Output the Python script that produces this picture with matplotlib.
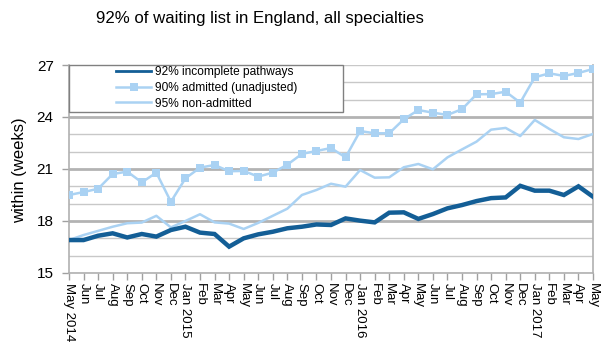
import matplotlib
matplotlib.use("Agg")
import matplotlib.pyplot as plt
from matplotlib.patches import Rectangle
from matplotlib.lines import Line2D
import numpy as np

months = ["May 2014", "Jun", "Jul", "Aug", "Sep", "Oct", "Nov", "Dec",
          "Jan 2015", "Feb", "Mar", "Apr", "May", "Jun", "Jul", "Aug", "Sep", "Oct", "Nov", "Dec",
          "Jan 2016", "Feb", "Mar", "Apr", "May", "Jun", "Jul", "Aug", "Sep", "Oct", "Nov", "Dec",
          "Jan 2017", "Feb", "Mar", "Apr", "May"]

incomplete = [16.9, 16.9, 17.15, 17.29, 17.05, 17.25, 17.1, 17.48,
              17.67, 17.33, 17.25, 16.52, 17.0, 17.23, 17.38, 17.58, 17.67, 17.8, 17.77, 18.15,
              18.02, 17.92, 18.48, 18.5, 18.12, 18.4, 18.73, 18.92, 19.15, 19.32, 19.36, 20.03,
              19.75, 19.75, 19.5, 20.0, 19.4]

admitted = [19.5, 19.67, 19.86, 20.71, 20.85, 20.23, 20.79, 19.11,
            20.46, 21.08, 21.23, 20.87, 20.89, 20.56, 20.79, 21.25, 21.87, 22.04, 22.21, 21.67,
            23.19, 23.06, 23.06, 23.87, 24.40, 24.25, 24.12, 24.45, 25.31, 25.32, 25.46, 24.83,
            26.29, 26.52, 26.37, 26.54, 26.77]

non_admitted = [16.9, 17.19, 17.43, 17.67, 17.87, 17.91, 18.3, 17.63,
                18.0, 18.39, 17.92, 17.85, 17.54, 17.89, 18.3, 18.71, 19.5, 19.79, 20.15, 19.98,
                20.94, 20.5, 20.52, 21.1, 21.29, 20.98, 21.67, 22.13, 22.58, 23.27, 23.37, 22.9,
                23.83, 23.31, 22.83, 22.73, 23.02]

series_names = ["92% incomplete pathways", "90% admitted (unadjusted)", "95% non-admitted"]
title = "92% of waiting list in England, all specialties"
ylabel = "within (weeks)"
yticks = [15, 18, 21, 24, 27]

dark = "#135e96"
light = "#aad2f3"

plt.rcParams['font.family'] = ['Liberation Sans', 'DejaVu Sans']

W, H = 603, 351
fig = plt.figure(figsize=(W / 100, H / 100), dpi=100)
L, R, T, B = 69, 593, 65, 273
ax = fig.add_axes([L / W, 1 - B / H, (R - L) / W, (B - T) / H])

x = np.arange(len(months))

# grid
for v in range(15, 28):
    if v in (18, 21, 24):
        ax.axhline(v, color="#b3b3b3", lw=2.0, zorder=1)
    else:
        ax.axhline(v, color="#c8c8c8", lw=1.0, zorder=1)

ax.plot(x, incomplete, color=dark, lw=3.2, zorder=5, solid_joinstyle="miter")
ax.plot(x, admitted, color=light, lw=1.8, marker="s", markersize=5.5,
        markeredgewidth=0, zorder=4)
ax.plot(x, non_admitted, color=light, lw=1.8, zorder=3)

ax.set_xlim(0, len(months) - 1)
ax.set_ylim(15, 27)
ax.set_yticks(yticks)
ax.set_yticklabels([str(t) for t in yticks], fontsize=11)
ax.set_xticks(x)
ax.set_xticklabels(months, rotation=270, fontsize=9.5, va="top", ha="center")
ax.tick_params(axis="both", color="#a0a0a0", length=5, width=1)
ax.tick_params(axis="x", pad=2)
ax.tick_params(axis="y", pad=6)

for s in ["left", "right", "bottom"]:
    ax.spines[s].set_color("#b0b0b0")
    ax.spines[s].set_linewidth(1.2)
ax.spines["top"].set_visible(False)

fig.text(20 / W, 1 - 170 / H, ylabel, rotation=90, ha="center", va="center", fontsize=12)
fig.text(260 / W, 1 - 19 / H, title, ha="center", va="center", fontsize=12.1)

# legend box
box = Rectangle((0, (B - 112) / (B - T)), (343 - L) / (R - L), (112 - T) / (B - T),
                transform=ax.transAxes, facecolor="white", edgecolor="#808080",
                lw=1.0, zorder=8, clip_on=False)
ax.add_patch(box)
handles = [Line2D([], [], color=dark, lw=2.0),
           Line2D([], [], color=light, lw=1.8, marker="s", markersize=5.5, markeredgewidth=0),
           Line2D([], [], color=light, lw=1.8)]
leg = ax.legend(handles, series_names, loc="upper left",
                bbox_to_anchor=((116 - L) / (R - L), 1 - 1.5 / (B - T)),
                frameon=False, fontsize=8.6, handlelength=2.94, handletextpad=0.34,
                borderpad=0, labelspacing=0.3, borderaxespad=0)
leg.set_zorder(10)

fig.savefig("out.png", dpi=100)
